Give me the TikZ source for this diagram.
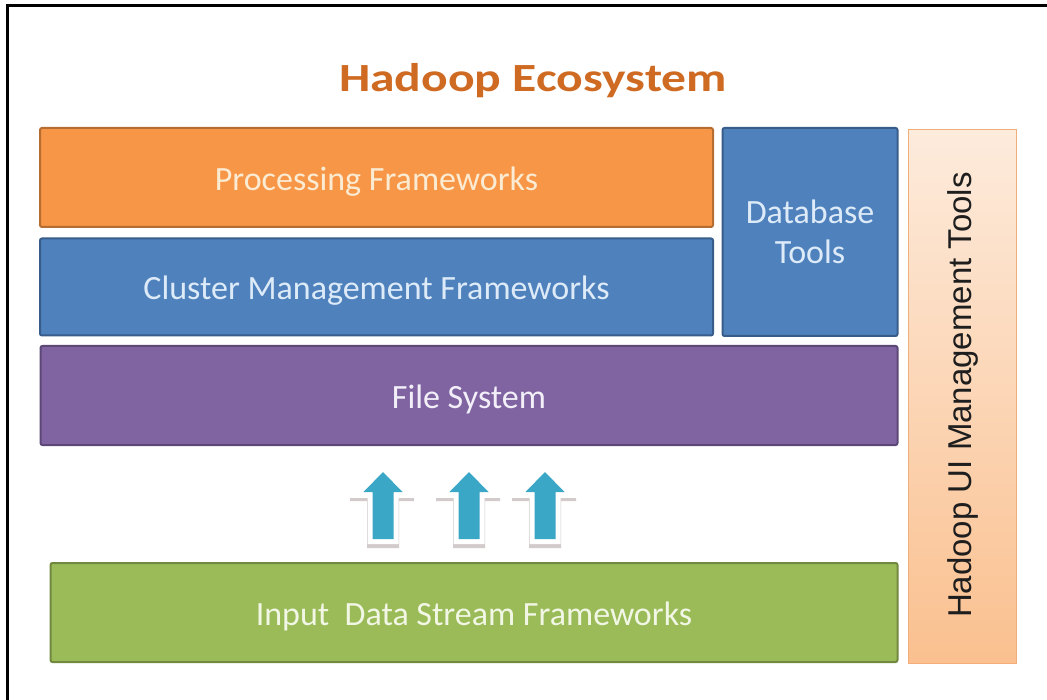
\documentclass[tikz,border=0pt]{standalone}
\usepackage{fontspec}
\setmainfont{Carlito}
\newfontfamily\arialfont{Liberation Sans}

\definecolor{procfill}{HTML}{F79646}
\definecolor{procline}{HTML}{B66D31}
\definecolor{proctext}{HTML}{FBEBD2}
\definecolor{clusfill}{HTML}{4F81BD}
\definecolor{clusline}{HTML}{385D8A}
\definecolor{clustext}{HTML}{DDEBF8}
\definecolor{filefill}{HTML}{8064A2}
\definecolor{fileline}{HTML}{5C4776}
\definecolor{filetext}{HTML}{F3EFF8}
\definecolor{inpfill}{HTML}{9BBB59}
\definecolor{inpline}{HTML}{71893F}
\definecolor{inptext}{HTML}{F1F7E4}
\definecolor{uitop}{HTML}{FDEBDC}
\definecolor{uibot}{HTML}{FAC08F}
\definecolor{uiline}{HTML}{F2AE78}
\definecolor{uitext}{HTML}{1E1E1E}
\definecolor{arrowfill}{HTML}{3BA7C6}
\definecolor{titlecol}{HTML}{CF6A22}
\definecolor{shadowcol}{HTML}{D3CBCB}

\tikzset{
  layerbox/.style={draw, line width=2pt, rounded corners=2pt, inner sep=0pt,
    align=center, font=\fontsize{34}{40}\selectfont},
  onelinetext/.style={text height=26pt, text depth=0pt},
  arrowhalo/.style={draw=white, fill=white, line width=10pt, line join=miter},
  flowarrow/.style={fill=arrowfill},
  arrowshadow/.style={fill=shadowcol}
}

\newcommand{\blockarrowpath}[2]{%
  (#1,#2+67) -- (#1-10.5,#2+67) -- (#1-10.5,#2+20) -- (#1-19.5,#2+20) -- (#1,#2) --
  (#1+19.5,#2+20) -- (#1+10.5,#2+20) -- (#1+10.5,#2+67) -- cycle}
\newcommand{\arrowshadowpath}[2]{%
  (#1-16,#2+76) -- (#1-16,#2+29) -- (#1-33,#2+29) -- (#1-33,#2+26) --
  (#1+31,#2+26) -- (#1+31,#2+29) -- (#1+16,#2+29) -- (#1+16,#2+76) -- cycle}

\begin{document}
\begin{tikzpicture}[x=1pt,y=-1pt]
\useasboundingbox (0,0) rectangle (1047,700);

% outer frame (open at right and bottom)
\draw[line width=3pt] (7.5,700) -- (7.5,5.5) -- (1047,5.5);

% title
\node[anchor=base, text=titlecol, font=\fontsize{40}{48}\selectfont\bfseries]
  (title) at (533,92) {\scalebox{1.24}[1]{Hadoop Ecosystem}};

% layers
\node[layerbox, onelinetext, fill=procfill, draw=procline, text=proctext,
  minimum width=673, minimum height=99] (proc) at (376.5,177.5) {Processing Frameworks};
\node[layerbox, onelinetext, fill=clusfill, draw=clusline, text=clustext,
  minimum width=673, minimum height=97] (clus) at (376.5,287) {Cluster Management Frameworks};
\node[layerbox, fill=clusfill, draw=clusline, text=clustext,
  minimum width=175, minimum height=208] (db) at (810,232) {Database\\Tools};
\node[layerbox, onelinetext, fill=filefill, draw=fileline, text=filetext,
  minimum width=857, minimum height=99] (fs) at (469,395.5) {File System};
\node[layerbox, onelinetext, fill=inpfill, draw=inpline, text=inptext,
  minimum width=847, minimum height=99] (inp) at (474,612.5) {Input\ \ Data Stream Frameworks};

% UI management tools bar
\node[draw=uiline, line width=1pt, top color=uitop, bottom color=uibot,
  minimum width=108, minimum height=533, inner sep=0pt] (ui) at (962,396.5) {};
\node[rotate=90, text=uitext, font=\arialfont\fontsize{33}{38}\selectfont]
  (uilabel) at (963,395) {Hadoop UI Management Tools};

% block arrows
\foreach \ax in {383,469,545}{
  \fill[arrowshadow] \arrowshadowpath{\ax}{472};
  \filldraw[arrowhalo] \blockarrowpath{\ax}{472};
  \fill[flowarrow] \blockarrowpath{\ax}{472};
}
\end{tikzpicture}
\end{document}
